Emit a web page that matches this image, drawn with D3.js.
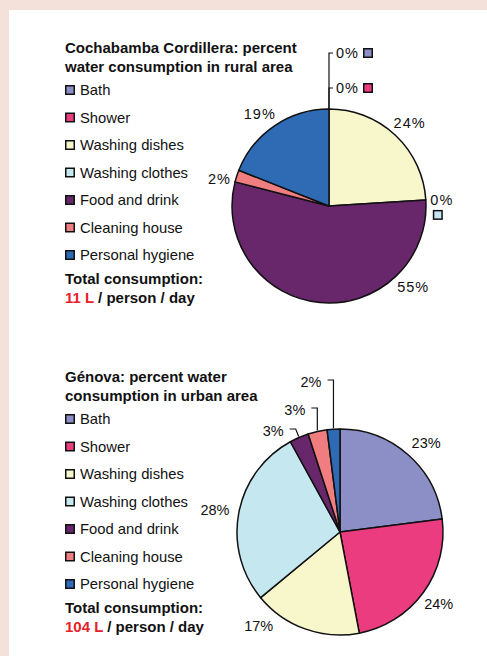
<!DOCTYPE html>
<html lang="en">
<head>
    <meta charset="UTF-8">
    <title>Water consumption: Cochabamba Cordillera vs Génova</title>
    <script src="https://d3js.org/d3.v7.min.js"></script>
    <style>
        body { margin: 0; overflow: hidden; background: #f3e1da; }
        svg { display: block; font-family: "Liberation Sans", Arial, sans-serif; }
    </style>
</head>
<body>
    <script>
    // --- data ---
    const categories = ["Bath", "Shower", "Washing dishes", "Washing clothes",
                        "Food and drink", "Cleaning house", "Personal hygiene"];
    const colors = ["#8b8fc5", "#ec3c80", "#f8f6cb", "#c5e7ef", "#68266b", "#f07e80", "#2f6bb4"];
    const ruralValues = [0, 0, 24, 0, 55, 2, 19];
    const urbanValues = [23, 24, 17, 28, 3, 3, 2];
    const ruralTitle = ["Cochabamba Cordillera: percent", "water consumption in rural area"];
    const urbanTitle = ["Génova: percent water", "consumption in urban area"];
    const ruralTotal = "11 L";
    const urbanTotal = "104 L";

    const width = 487, height = 656;

    const svg = d3.select("body").append("svg")
      .attr("width", width)
      .attr("height", height);

    // white panel
    svg.append("rect")
      .attr("x", 9).attr("y", 10)
      .attr("width", width - 9).attr("height", height - 10)
      .attr("fill", "#fff");

    const pie = d3.pie().sort(null).value(d => d);

    function drawPanel(top, title, total, values, opts) {
      const g = svg.append("g").attr("transform", `translate(0,${top})`);

      // title
      g.append("text")
        .attr("x", 65).attr("y", 52.5)
        .attr("font-size", 15).attr("font-weight", "bold").attr("fill", "#111")
        .selectAll("tspan")
        .data(title)
        .join("tspan")
        .attr("x", 65)
        .attr("dy", (d, i) => i ? 19 : 0)
        .text(d => d);

      // legend
      const y = d3.scalePoint().domain(categories).range([90, 255]);
      const leg = g.append("g").selectAll("g")
        .data(categories)
        .join("g")
        .attr("transform", d => `translate(65,${y(d)})`);
      leg.append("rect")
        .attr("x", 0.75).attr("y", -4.25)
        .attr("width", 8.5).attr("height", 8.5)
        .attr("fill", (d, i) => colors[i])
        .attr("stroke", "#111").attr("stroke-width", 1.5);
      leg.append("text")
        .attr("x", 15).attr("dy", "0.36em")
        .attr("font-size", 14.8).attr("fill", "#111")
        .text(d => d);

      // total
      g.append("text")
        .attr("x", 65).attr("y", 283.5)
        .attr("font-size", 15).attr("font-weight", "bold").attr("fill", "#111")
        .text("Total consumption:");
      const t2 = g.append("text")
        .attr("x", 65).attr("y", 302.5)
        .attr("font-size", 15).attr("font-weight", "bold").attr("fill", "#111");
      t2.append("tspan").attr("fill", "#e8202a").text(total);
      t2.append("tspan").text(" / person / day");

      // pie
      const cx = opts.cx, cy = opts.cy, r = opts.r;
      const arcs = pie(values);
      const arc = d3.arc().innerRadius(0).outerRadius(r);
      const pg = g.append("g").attr("transform", `translate(${cx},${cy})`);
      pg.selectAll("path")
        .data(arcs.filter(d => d.value > 0))
        .join("path")
        .attr("d", arc)
        .attr("fill", d => colors[d.index])
        .attr("stroke", "#111")
        .attr("stroke-width", 1.5)
        .attr("stroke-linejoin", "round");

      const edge = (a, rr) => [Math.sin(a) * rr, -Math.cos(a) * rr];

      // labels
      arcs.forEach(d => {
        const o = opts.labels[d.index];
        if (!o) return;
        const mid = (d.startAngle + d.endAngle) / 2;
        const txt = d.value + "%";
        if (o.type === "ring") {
          const a = o.angle != null ? o.angle * Math.PI / 180 : mid;
          const [lx, ly] = edge(a, r + o.off);
          pg.append("text")
            .attr("x", lx).attr("y", ly)
            .attr("dy", "0.36em")
            .attr("text-anchor", "middle")
            .attr("font-size", 14.5).attr("fill", "#111")
            .attr("letter-spacing", opts.spacing)
            .text(txt);
        } else if (o.type === "leader") {
          const [ex, ey] = edge(mid, r + 1);
          pg.append("path")
            .attr("d", `M${ex},${ey}L${ex + (o.slant || 0)},${o.ly}L${ex + (o.slant || 0) - 6},${o.ly}`)
            .attr("fill", "none").attr("stroke", "#111").attr("stroke-width", 1.2);
          pg.append("text")
            .attr("x", ex + (o.slant || 0) - 12).attr("y", o.ly + 2)
            .attr("dy", "0.36em")
            .attr("text-anchor", "end")
            .attr("font-size", 14.5).attr("fill", "#111")
            .attr("letter-spacing", opts.spacing)
            .text(txt);
        } else if (o.type === "zeroTop") {
          // zero slices at 12 o'clock: stacked ticks on one vertical leader
          pg.append("path")
            .attr("d", `M0,${-r}V${o.ly}h4`)
            .attr("fill", "none").attr("stroke", "#111").attr("stroke-width", 1.2);
          pg.append("text")
            .attr("x", 7).attr("y", o.ly)
            .attr("dy", "0.36em")
            .attr("font-size", 14.5).attr("fill", "#111")
            .attr("letter-spacing", opts.spacing)
            .text(txt);
          pg.append("rect")
            .attr("x", 34.75).attr("y", o.ly - 4.25)
            .attr("width", 8.5).attr("height", 8.5)
            .attr("fill", colors[d.index])
            .attr("stroke", "#111").attr("stroke-width", 1.5);
        } else if (o.type === "zeroSide") {
          const [ex, ey] = edge(d.startAngle, r);
          pg.append("text")
            .attr("x", ex + 16).attr("y", ey)
            .attr("dy", "0.36em")
            .attr("text-anchor", "middle")
            .attr("font-size", 14.5).attr("fill", "#111")
            .attr("letter-spacing", opts.spacing)
            .text(txt);
          pg.append("rect")
            .attr("x", ex + 7.75).attr("y", ey + 10.75)
            .attr("width", 8.5).attr("height", 8.5)
            .attr("fill", colors[d.index])
            .attr("stroke", "#111").attr("stroke-width", 1.5);
        }
      });
    }

    drawPanel(0, ruralTitle, ruralTotal, ruralValues, {
      cx: 329, cy: 206, r: 97, spacing: 1,
      labels: [
        { type: "zeroTop", ly: -153 },
        { type: "zeroTop", ly: -118 },
        { type: "ring", off: 19, angle: 44 },
        { type: "zeroSide" },
        { type: "ring", off: 20, angle: 134 },
        { type: "ring", off: 16, angle: 284 },
        { type: "ring", off: 18, angle: 323 }
      ]
    });

    drawPanel(329, urbanTitle, urbanTotal, urbanValues, {
      cx: 340, cy: 203, r: 103, spacing: 0,
      labels: [
        { type: "ring", off: 21, angle: 44 },
        { type: "ring", off: 19, angle: 126 },
        { type: "ring", off: 21, angle: 221 },
        { type: "ring", off: 24, angle: 280 },
        { type: "leader", ly: -103, slant: -3 },
        { type: "leader", ly: -124, slant: 0 },
        { type: "leader", ly: -152, slant: 0 }
      ]
    });
    </script>
</body>
</html>
